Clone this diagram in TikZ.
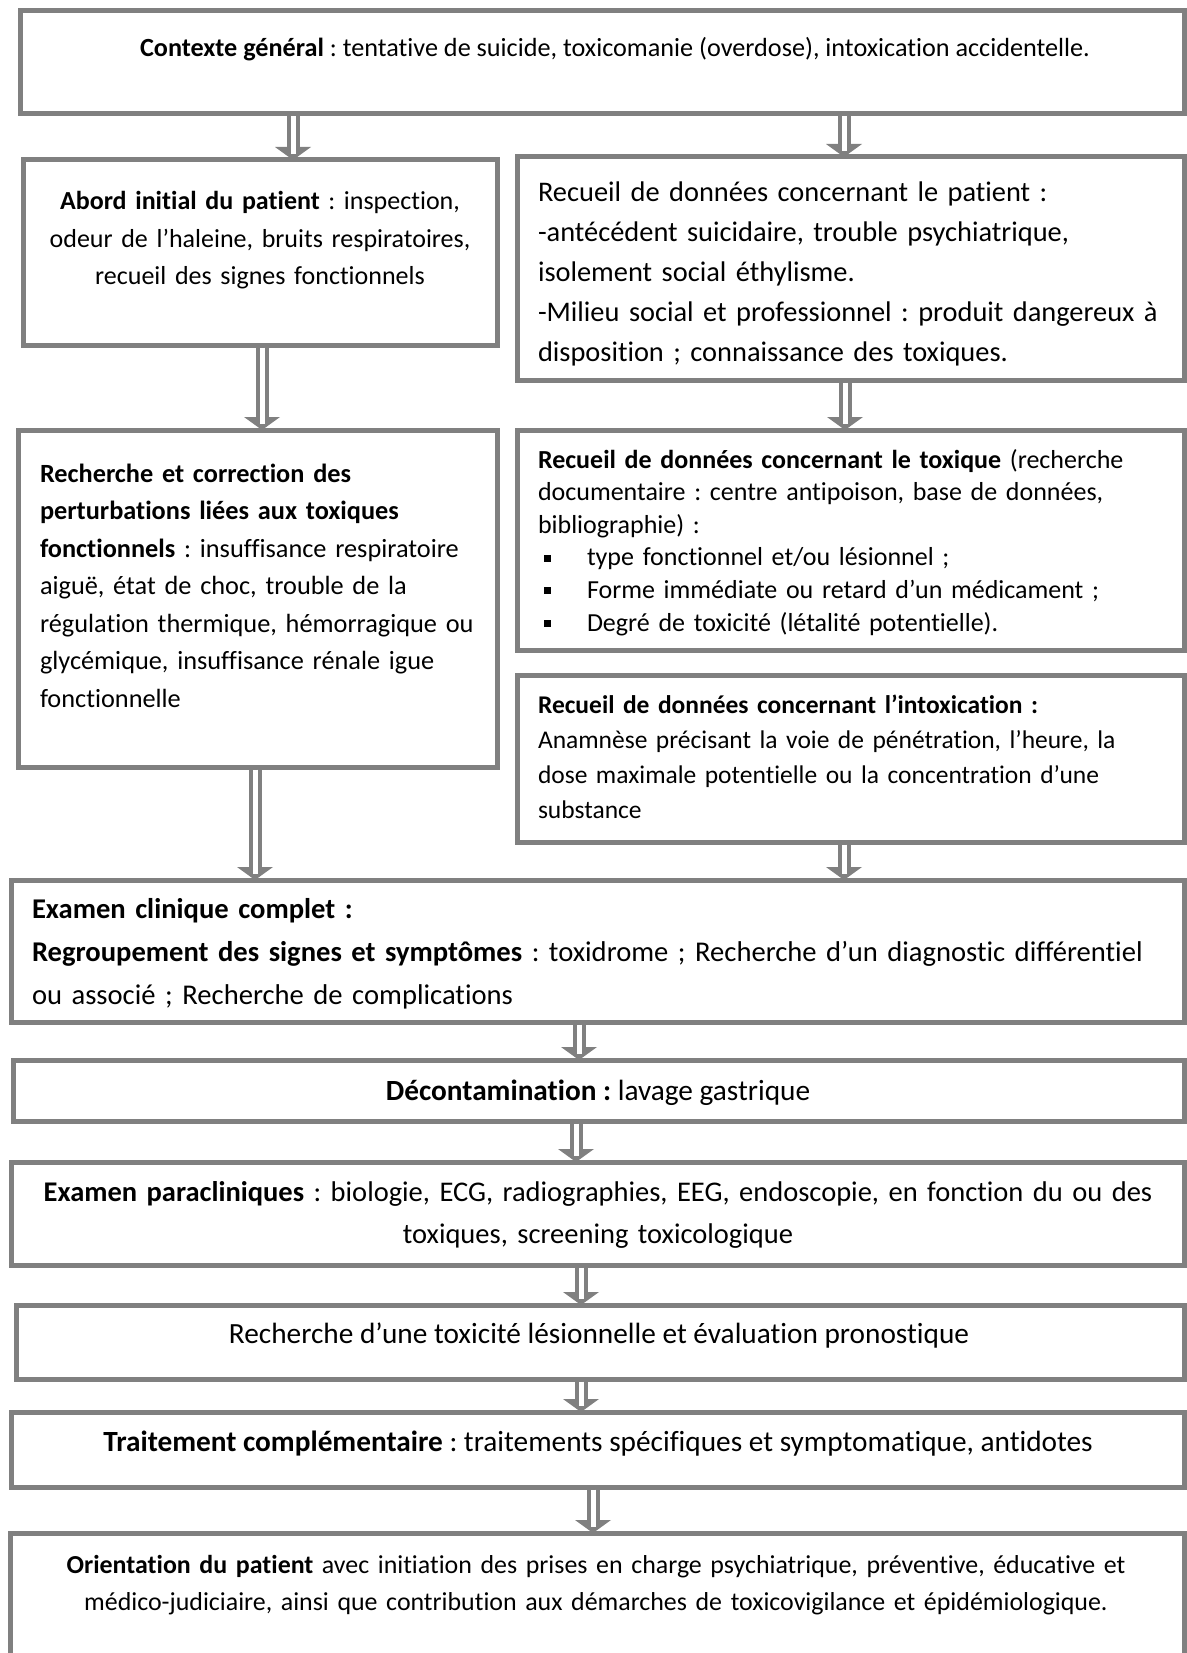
\documentclass[tikz,border=0pt]{standalone}
\usepackage{fontspec}
\setmainfont{Carlito}[Ligatures={NoCommon}]
\usetikzlibrary{calc}
\definecolor{bgray}{RGB}{128,128,128}
\tikzset{
  box/.style={draw=bgray, line width=5pt, fill=white, rectangle, inner sep=0pt, outer sep=0pt, anchor=north west},
  txt/.style={inner sep=0pt, outer sep=0pt},
}
\newcommand\fs[2]{\fontsize{#1}{#2}\selectfont\frenchspacing}
\newcommand\garrow[3]{%
  \path (#1 -| #3) coordinate (s) (#2 -| #3) coordinate (t);
  \draw[bgray, line width=13pt] (s) -- ($(t)+(0,-12)$);
  \fill[bgray] ($(t)+(-18,-13)$) -- ($(t)+(18,-13)$) -- (t) -- cycle;
  \draw[white, line width=5pt] ($(s)+(0,2.5)$) -- ($(t)+(0,-6)$);
}
\newcommand\bul{\makebox[49pt][l]{\hspace*{6pt}\rule[4pt]{6.5pt}{7pt}}}
\frenchspacing
\begin{document}
\begin{tikzpicture}[x=1pt, y=-1pt]
\fill[white] (0,0) rectangle (1186,1653);
\useasboundingbox (0,0) rectangle (1186,1653);
% boxes
\node[box, minimum width=1164pt, minimum height=103pt] (b1) at (20,11) {};
\node[box, minimum width=474pt, minimum height=185pt] (b2) at (23,160) {};
\node[box, minimum width=667pt, minimum height=223pt] (b3) at (517,157) {};
\node[box, minimum width=479pt, minimum height=337pt] (b4) at (18,430) {};
\node[box, minimum width=667pt, minimum height=220pt] (b5) at (517,430) {};
\node[box, minimum width=667pt, minimum height=167pt] (b6) at (517,675) {};
\node[box, minimum width=1173pt, minimum height=142pt] (b7) at (11,880) {};
\node[box, minimum width=1171pt, minimum height=61pt] (b8) at (13,1060) {};
\node[box, minimum width=1173pt, minimum height=103pt] (b9) at (11,1162) {};
\node[box, minimum width=1168pt, minimum height=74pt] (b10) at (16,1305) {};
\node[box, minimum width=1173pt, minimum height=75pt] (b11) at (11,1412) {};
\node[box, minimum width=1174pt, minimum height=150pt] (b12) at (10,1533) {};
% texts
\node[txt, anchor=base, font=\fs{26.2}{37.5}] (t1) at (615,57) {\textbf{Contexte général} : tentative de suicide, toxicomanie (overdose), intoxication accidentelle.};
\node[txt, anchor=base, text width=460pt, align=center, font=\fs{26}{37.5}] (t2) at (260,210) {\textbf{Abord initial du patient} : inspection,\\ odeur de l’haleine, bruits respiratoires,\\ recueil des signes fonctionnels};
\node[txt, anchor=base west, text width=660pt, align=left, font=\fs{28.4}{40}] (t3) at (538,202) {Recueil de données concernant le patient :\\ -antécédent suicidaire, trouble psychiatrique,\\ isolement social éthylisme.\\ -Milieu social et professionnel : produit dangereux à\\ disposition ; connaissance des toxiques.};
\node[txt, anchor=base west, text width=450pt, align=left, font=\fs{26.3}{37.5}] (t4) at (40,482) {\textbf{Recherche et correction des}\\ \textbf{perturbations liées aux toxiques}\\ \textbf{fonctionnels} : insuffisance respiratoire\\ aiguë, état de choc, trouble de la\\ régulation thermique, hémorragique ou\\ glycémique, insuffisance rénale igue\\ fonctionnelle};
\node[txt, anchor=base west, text width=640pt, align=left, font=\fs{26}{32.6}] (t5) at (538,468) {\textbf{Recueil de données concernant le toxique} (recherche\\ documentaire : centre antipoison, base de données,\\ bibliographie) :\\ \bul type fonctionnel et/ou lésionnel ;\\ \bul Forme immédiate ou retard d’un médicament ;\\ \bul Degré de toxicité (létalité potentielle).};
\node[txt, anchor=base west, text width=640pt, align=left, font=\fs{25.5}{35}] (t6) at (538,713) {\textbf{Recueil de données concernant l’intoxication :}\\ Anamnèse précisant la voie de pénétration, l’heure, la\\ dose maximale potentielle ou la concentration d’une\\ substance};
\node[txt, anchor=base west, text width=1150pt, align=left, font=\fs{28.6}{43}] (t7) at (32,918) {\textbf{Examen clinique complet :}\\ \textbf{Regroupement des signes et symptômes} : toxidrome ; Recherche d’un diagnostic différentiel\\ ou associé ; Recherche de complications};
\node[txt, anchor=base, font=\fs{29.3}{40}] (t8) at (598,1100) {\textbf{Décontamination :} lavage gastrique};
\node[txt, anchor=base, text width=1150pt, align=center, font=\fs{28.5}{42}] (t9) at (598,1201) {\textbf{Examen paracliniques} : biologie, ECG, radiographies, EEG, endoscopie, en fonction du ou des\\ toxiques, screening toxicologique};
\node[txt, anchor=base, font=\fs{29.3}{40}] (t10) at (599,1343) {Recherche d’une toxicité lésionnelle et évaluation pronostique};
\node[txt, anchor=base, font=\fs{29.3}{40}] (t11) at (598,1451) {\textbf{Traitement complémentaire} : traitements spécifiques et symptomatique, antidotes};
\node[txt, anchor=base, text width=1150pt, align=center, font=\fs{25.9}{37.5}] (t12) at (596,1573) {\textbf{Orientation du patient} avec initiation des prises en charge psychiatrique, préventive, éducative et\\ médico-judiciaire, ainsi que contribution aux démarches de toxicovigilance et épidémiologique.};
% arrow x positions
\coordinate (x1) at (293,0);
\coordinate (x2) at (844,0);
\coordinate (x3) at (262,0);
\coordinate (x4) at (845,0);
\coordinate (x5) at (255,0);
\coordinate (x6) at (844,0);
\coordinate (x7) at (579,0);
\coordinate (x8) at (576,0);
\coordinate (x9) at (581,0);
\coordinate (x10) at (581,0);
\coordinate (x11) at (593,0);
% arrows
\garrow{b1.south}{b2.north}{x1}
\garrow{b1.south}{b3.north}{x2}
\garrow{b2.south}{b4.north}{x3}
\garrow{b3.south}{b5.north}{x4}
\garrow{b4.south}{b7.north}{x5}
\garrow{b6.south}{b7.north}{x6}
\garrow{b7.south}{b8.north}{x7}
\garrow{b8.south}{b9.north}{x8}
\garrow{b9.south}{b10.north}{x9}
\garrow{b10.south}{b11.north}{x10}
\garrow{b11.south}{b12.north}{x11}
\end{tikzpicture}
\end{document}
